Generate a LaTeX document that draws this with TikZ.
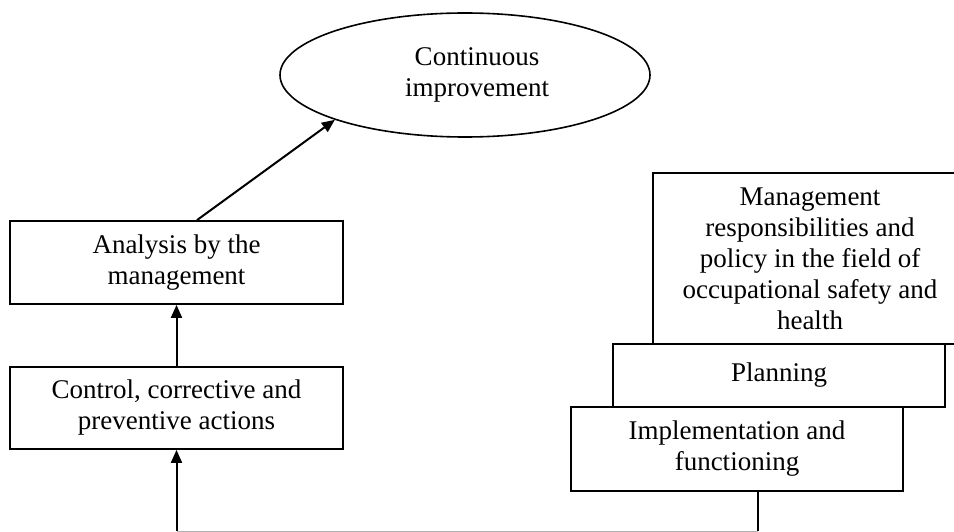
\documentclass[tikz,border=0pt]{standalone}
\usepackage{fontspec}
\setmainfont{Liberation Serif}
\usetikzlibrary{shapes.geometric,arrows.meta}
\tikzset{
  box/.style={draw, line width=1.8pt, align=center, inner sep=0pt,
    font=\fontsize{27}{31}\selectfont},
  oval/.style={draw, ellipse, line width=1.6pt, align=center, inner sep=0pt,
    font=\fontsize{27}{31}\selectfont},
  arr/.style={line width=2pt, -{Triangle[length=13pt,width=11pt]}}
}
\begin{document}
\begin{tikzpicture}[x=1pt,y=-1pt]
\useasboundingbox (0,0) rectangle (954,532);

\node[oval, minimum width=370, minimum height=124] (improve) at (465,75) {\hspace{24pt}Continuous\\\hspace{24pt}improvement};

\node[box, minimum width=333, minimum height=83] (analysis) at (176.5,262.5) {Analysis by the\\management};
\node[box, minimum width=333, minimum height=82] (control) at (176.5,408) {Control, corrective and\\preventive actions};

\node[box, minimum width=314, minimum height=171] (mgmt) at (810,258.5) {\rule{0pt}{14pt}Management\\responsibilities and\\policy in the field of\\occupational safety and\\health};
\node[box, minimum width=332, minimum height=63] (plan) at (779,375.5) {Planning};
\node[box, minimum width=332, minimum height=84] (impl) at (737,449) {Implementation and\\functioning};

\coordinate (bend) at ([xshift=21]impl.south |- 0,531);

\draw[arr] ([xshift=20.5]analysis.north) -- (improve.199);
\draw[arr] (control.north) -- (analysis.south);
\draw[line width=1.8pt] ([xshift=21]impl.south) -- (bend);
\draw[line width=1pt, gray!60] (bend) -- (control.south |- bend);
\draw[arr] (control.south |- bend) -- (control.south);
\end{tikzpicture}
\end{document}
